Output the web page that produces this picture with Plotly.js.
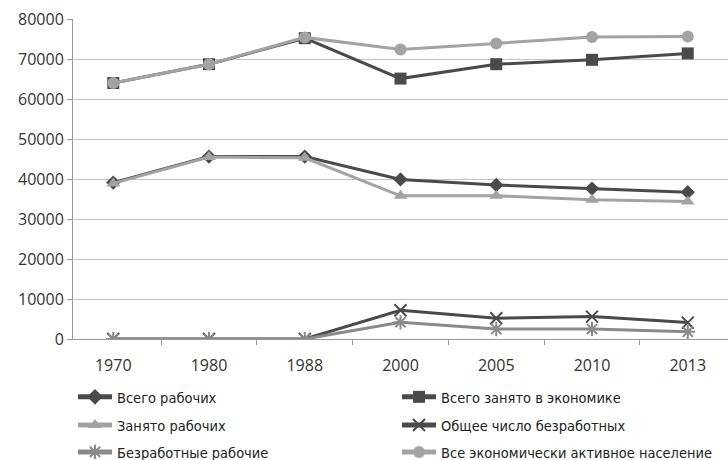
<!DOCTYPE html>
<html>
<head>
<meta charset="utf-8">
<script src="https://cdn.plot.ly/plotly-3.0.1.min.js"></script>
<style>html,body{margin:0;padding:0;background:#fff;}#chart{width:728px;height:460px;}</style>
</head>
<body>
<div id="chart"></div>
<script>
const years = ['1970', '1980', '1988', '2000', '2005', '2010', '2013'];
const vsegoRabochih = [39100, 45600, 45600, 39900, 38500, 37600, 36700];
const vsegoZanyato = [64000, 68700, 75200, 65100, 68700, 69800, 71400];
const zanyatoRabochih = [38900, 45500, 45300, 35800, 35800, 34800, 34400];
const obscheeBezrab = [0, 0, 0, 7200, 5200, 5600, 4100];
const bezrabRabochie = [0, 0, 0, 4200, 2500, 2500, 1800];
const vseAktivnoe = [64000, 68700, 75400, 72400, 73900, 75500, 75600];
const names = ['Всего рабочих', 'Всего занято в экономике', 'Занято рабочих',
  'Общее число безработных', 'Безработные рабочие', 'Все экономически активное население'];

const dark = '#4a4a4a', light = '#a3a3a3', mid = '#8a8a8a';
function tr(y, name, color, symbol, size, legend, mcolor, lw) {
  return {x: years, y: y, name: name, type: 'scatter', mode: 'lines+markers',
    line: {color: color, width: 3}, legend: legend,
    marker: {symbol: symbol, size: size, color: mcolor || color, line: {color: mcolor || color, width: lw || 0}}};
}
const data = [
  tr(vsegoRabochih, names[0], dark, 'diamond', 11, 'legend'),
  tr(vsegoZanyato, names[1], dark, 'square', 12, 'legend2'),
  tr(zanyatoRabochih, names[2], light, 'triangle-up', 12, 'legend3'),
  tr(obscheeBezrab, names[3], dark, 'x-thin-open', 12, 'legend4', dark, 2),
  tr(bezrabRabochie, names[4], mid, 'asterisk-open', 12, 'legend5', mid, 2),
  tr(vseAktivnoe, names[5], light, 'circle', 12, 'legend6')
];
const legFont = {family: 'Liberation Sans Narrow, DejaVu Sans Condensed, sans-serif', size: 14.5, color: '#222'};
function leg(x, y) {
  return {orientation: 'h', x: x, xanchor: 'left', y: y, yanchor: 'middle',
    font: legFont, bgcolor: 'rgba(0,0,0,0)', itemsizing: 'constant', itemwidth: 34};
}
const c1 = 0.0, c2 = 0.4947;
const layout = {
  width: 728, height: 460,
  margin: {l: 73, r: 0, t: 19, b: 121, autoexpand: false},
  paper_bgcolor: '#fff', plot_bgcolor: '#fff',
  font: {family: 'Open Sans, sans-serif', size: 16, color: '#333'},
  xaxis: {type: 'category', showline: true, linecolor: '#9a9a9a', linewidth: 1,
    ticks: 'outside', tickson: 'boundaries', ticklen: 5, tickcolor: '#9a9a9a',
    ticklabelstandoff: 12, showgrid: false, zeroline: false, fixedrange: true, automargin: false},
  yaxis: {range: [0, 80000], dtick: 10000, showline: true, linecolor: '#9a9a9a',
    ticks: 'outside', ticklen: 5, tickcolor: '#9a9a9a', gridcolor: '#c4c4c4',
    zeroline: false, tickformat: 'd', fixedrange: true, automargin: false},
  showlegend: true,
  legend: leg(c1, -0.181),
  legend2: leg(c2, -0.181),
  legend3: leg(c1, -0.269),
  legend4: leg(c2, -0.269),
  legend5: leg(c1, -0.353),
  legend6: leg(c2, -0.353)
};
Plotly.newPlot('chart', data, layout, {displayModeBar: false, staticPlot: true});
</script>
</body>
</html>
